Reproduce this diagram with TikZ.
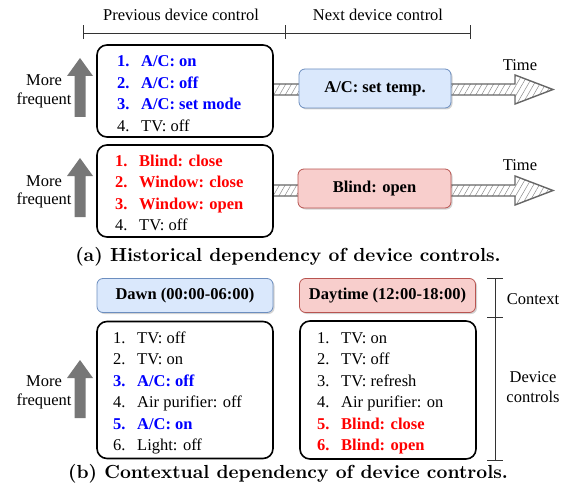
\documentclass[tikz,border=0pt]{standalone}
\usepackage{fontspec}
\newfontfamily\capfont{lmroman10-bold.otf}
\setmainfont{Liberation Serif}
\usetikzlibrary{shadows,patterns.meta}
\definecolor{bluefill}{HTML}{DAE8FC}
\definecolor{blueline}{HTML}{6C8EBF}
\definecolor{redfill}{HTML}{F8CECC}
\definecolor{redline}{HTML}{B85450}
\definecolor{arrgray}{HTML}{777777}
\definecolor{hlblue}{HTML}{0000FF}
\definecolor{hlred}{HTML}{FF0000}
\tikzset{
  txt/.style={inner sep=0pt, font=\fontsize{16.5}{19}\selectfont},
  item/.style={txt, anchor=base west},
  hb/.style={item, text=hlblue, font=\fontsize{16.5}{19}\selectfont\bfseries},
  hr/.style={item, text=hlred, font=\fontsize{16.5}{19}\selectfont\bfseries},
  listbox/.style={draw=black, line width=1.6pt, rounded corners=10pt, fill=white,
    minimum width=176pt, inner sep=0pt},
  ctxblue/.style={draw=blueline, line width=0.8pt, fill=bluefill, rounded corners=6pt,
    inner sep=0pt, font=\fontsize{16.5}{19}\selectfont\bfseries,
    drop shadow={opacity=0.35, shadow xshift=1.5pt, shadow yshift=-1.5pt}},
  ctxred/.style={ctxblue, draw=redline, fill=redfill},
  timearrow/.style={draw=black!60, line width=1.4pt, line join=miter,
    preaction={fill=white},
    pattern={Lines[angle=60,distance=5pt,line width=0.5pt]}, pattern color=black!45},
  uparrow/.style={fill=arrgray, draw=none},
  bracket/.style={draw=black!80, line width=0.9pt},
  caption/.style={inner sep=0pt, font=\capfont\fontsize{18.9}{22}\selectfont},
}
\newcommand{\itm}[2]{\makebox[24pt][l]{#1}#2}
\begin{document}
\begin{tikzpicture}[x=1pt,y=-1pt]
\useasboundingbox (0,0) rectangle (572,489);

% ---- top bracket
\coordinate (bl) at (83,33);
\coordinate (bm) at (285,33);
\coordinate (br) at (470,33);
\draw[bracket] (bl) -- (br);
\draw[bracket] ([yshift=-6pt]bl) -- ([yshift=8pt]bl);
\draw[bracket] ([yshift=-6pt]bm) -- ([yshift=8pt]bm);
\draw[bracket] ([yshift=-6pt]br) -- ([yshift=8pt]br);
\node[txt] (prevlbl) at (181,15) {Previous device control};
\node[txt] (nextlbl) at (378,15) {Next device control};

% ---- row 1
\draw[timearrow] (200,84) -- (515,84) -- (515,75) -- (553,89.5) -- (515,104) -- (515,95) -- (200,95) -- cycle;
\node[txt] (time1) at (520,65) {Time};
\node[listbox, minimum height=92pt] (box1) at (185,91) {};
\node[hb] (b1l1) at (117,67) {\itm{1.}{A/C: on}};
\node[hb] (b1l2) at (117,88.5) {\itm{2.}{A/C: off}};
\node[hb] (b1l3) at (117,110) {\itm{3.}{A/C: set mode}};
\node[item] (b1l4) at (117,131.5) {\itm{4.}{TV: off}};
\node[ctxblue, minimum width=152pt, minimum height=39pt] (next1) at (375,88.5) {A/C: set temp.};
\fill[uparrow] (74.5,117) -- (74.5,76) -- (67,76) -- (80,58) -- (93,76) -- (85.5,76) -- (85.5,117) -- cycle;
\node[txt] (more1) at (44,80) {More};
\node[txt] (freq1) at (44,100) {frequent};

% ---- row 2
\draw[timearrow] (200,185) -- (515,185) -- (515,176) -- (553,190.5) -- (515,205) -- (515,196) -- (200,196) -- cycle;
\node[txt] (time2) at (520,165) {Time};
\node[listbox, minimum height=92pt] (box2) at (185,191) {};
\node[hr] (b2l1) at (115,166) {\itm{1.}{Blind: close}};
\node[hr] (b2l2) at (115,187.5) {\itm{2.}{Window: close}};
\node[hr] (b2l3) at (115,209) {\itm{3.}{Window: open}};
\node[item] (b2l4) at (115,230.5) {\itm{4.}{TV: off}};
\node[ctxred, minimum width=153pt, minimum height=39pt] (next2) at (374.5,188.5) {Blind: open};
\fill[uparrow] (74.5,217) -- (74.5,176) -- (67,176) -- (80,158) -- (93,176) -- (85.5,176) -- (85.5,217) -- cycle;
\node[txt] (more2) at (44,181) {More};
\node[txt] (freq2) at (44,200) {frequent};

\node[caption] (capa) at (288,257) {(a) Historical dependency of device controls.};

% ---- part b
\node[ctxblue, minimum width=176pt, minimum height=34pt] (dawn) at (185,295.5) {Dawn (00:00-06:00)};
\node[ctxred, minimum width=176pt, minimum height=34pt] (day) at (387.5,295.5) {Daytime (12:00-18:00)};

\node[listbox, minimum height=137pt] (box3) at (185,390) {};
\node[item] (b3l1) at (113,343) {\itm{1.}{TV: off}};
\node[item] (b3l2) at (113,364.5) {\itm{2.}{TV: on}};
\node[hb] (b3l3) at (113,386) {\itm{3.}{A/C: off}};
\node[item] (b3l4) at (113,407.5) {\itm{4.}{Air purifier: off}};
\node[hb] (b3l5) at (113,429) {\itm{5.}{A/C: on}};
\node[item] (b3l6) at (113,450.5) {\itm{6.}{Light: off}};

\node[listbox, minimum height=138pt] (box4) at (388,390) {};
\node[item] (b4l1) at (317,343) {\itm{1.}{TV: on}};
\node[item] (b4l2) at (317,364.5) {\itm{2.}{TV: off}};
\node[item] (b4l3) at (317,386) {\itm{3.}{TV: refresh}};
\node[item] (b4l4) at (317,407.5) {\itm{4.}{Air purifier: on}};
\node[hr] (b4l5) at (317,429) {\itm{5.}{Blind: close}};
\node[hr] (b4l6) at (317,450.5) {\itm{6.}{Blind: open}};

\fill[uparrow] (74.5,418) -- (74.5,378) -- (67,378) -- (80,360) -- (93,378) -- (85.5,378) -- (85.5,418) -- cycle;
\node[txt] (more3) at (44,381) {More};
\node[txt] (freq3) at (44,401) {frequent};

% ---- vertical bracket
\coordinate (vt) at (495,278);
\coordinate (vm) at (495,317);
\coordinate (vb) at (495,460);
\draw[bracket] (vt) -- (vb);
\draw[bracket] ([xshift=-8pt]vt) -- ([xshift=8pt]vt);
\draw[bracket] ([xshift=-8pt]vm) -- ([xshift=8pt]vm);
\draw[bracket] ([xshift=-8pt]vb) -- ([xshift=8pt]vb);
\node[txt] (ctxlbl) at (533,299) {Context};
\node[txt, align=center] (devlbl) at (533,387) {Device\\[1pt]controls};

\node[caption] (capb) at (288,474) {(b) Contextual dependency of device controls.};
\end{tikzpicture}
\end{document}
